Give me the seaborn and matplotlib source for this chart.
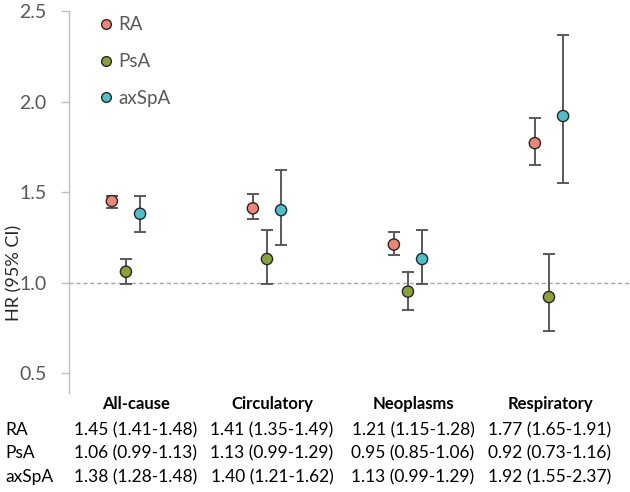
import numpy as np
import pandas as pd
import matplotlib
matplotlib.use("Agg")
import matplotlib.pyplot as plt
from matplotlib.lines import Line2D
import seaborn as sns

sns.set_style("white")
plt.rcParams['font.family'] = ['Lato', 'DejaVu Sans']

# 数据
causes = ["All-cause", "Circulatory", "Neoplasms", "Respiratory"]
groups = ["RA", "PsA", "axSpA"]
ra_hr = [1.45, 1.41, 1.21, 1.77]
ra_lo = [1.41, 1.35, 1.15, 1.65]
ra_hi = [1.48, 1.49, 1.28, 1.91]
psa_hr = [1.06, 1.13, 0.95, 0.92]
psa_lo = [0.99, 0.99, 0.85, 0.73]
psa_hi = [1.13, 1.29, 1.06, 1.16]
axspa_hr = [1.38, 1.40, 1.13, 1.92]
axspa_lo = [1.28, 1.21, 0.99, 1.55]
axspa_hi = [1.48, 1.62, 1.29, 2.37]

colors = {"RA": "#EE8578", "PsA": "#8BA23A", "axSpA": "#4DBFC9"}
offsets = {"RA": -0.1, "PsA": 0.0, "axSpA": 0.1}

rows = []
for g, hr, lo, hi in zip(groups, [ra_hr, psa_hr, axspa_hr], [ra_lo, psa_lo, axspa_lo], [ra_hi, psa_hi, axspa_hi]):
    for i, c in enumerate(causes):
        rows.append({"group": g, "cause": c, "x": i + offsets[g], "hr": hr[i], "lo": lo[i], "hi": hi[i]})
df = pd.DataFrame(rows)

fig = plt.figure(figsize=(6.3, 4.92), dpi=100)
ax = fig.add_axes([69 / 630, 99 / 492, 561 / 630, 382 / 492])

ax.axhline(1.0, color="#A6A6A6", lw=1, ls=(0, (3, 2)), zorder=1)

# 误差线
for g in groups:
    d = df[df["group"] == g]
    ax.errorbar(d["x"], d["hr"], yerr=[d["hr"] - d["lo"], d["hi"] - d["hr"]],
                fmt="none", ecolor="#595959", elinewidth=1.4, capsize=4, capthick=1.4, zorder=2)

sns.scatterplot(data=df, x="x", y="hr", hue="group", palette=colors, s=65,
                edgecolor="#262626", linewidth=1, legend=False, zorder=3, ax=ax)

ax.set_xlim(-0.404, -0.404 + 561 / 141)
ax.set_ylim(0.39, 2.5)
ax.set_yticks([0.5, 1.0, 1.5, 2.0, 2.5])
ax.set_yticklabels(["0.5", "1.0", "1.5", "2.0", "2.5"])
ax.set_xticks([])
ax.set_xlabel("")
ax.set_ylabel("")
ax.tick_params(axis="y", labelsize=14, labelcolor="#595959", color="#BFBFBF", length=6, width=1,
               direction="out", left=True, pad=10)
for s in ["top", "right", "bottom"]:
    ax.spines[s].set_visible(False)
ax.spines["left"].set_color("#BFBFBF")
ax.spines["left"].set_linewidth(1)

fig.text(14 / 630, 1 - 273 / 492, "HR (95% CI)", rotation=90, ha="center", va="center",
         fontsize=13, color="#262626")

# 图例
handles = [Line2D([0], [0], marker="o", ls="none", markersize=7, markerfacecolor=colors[g],
                  markeredgecolor="#262626", markeredgewidth=1) for g in groups]
ax.legend(handles, groups, loc="upper left", bbox_to_anchor=(0.02, 1.03), frameon=False,
          fontsize=13.5, labelspacing=1.05, handletextpad=0.15, handlelength=1.0, labelcolor="#595959")

# 表格
col_x = [136, 272, 413, 550]
row_y = [430, 453, 477]
for cx, c in zip(col_x, causes):
    fig.text(cx / 630, 1 - 404 / 492, c, ha="center", va="center", fontsize=12, fontweight="bold", color="#000000")
for ry, g, hr, lo, hi in zip(row_y, groups, [ra_hr, psa_hr, axspa_hr], [ra_lo, psa_lo, axspa_lo], [ra_hi, psa_hi, axspa_hi]):
    fig.text(5 / 630, 1 - ry / 492, g, ha="left", va="center", fontsize=12.5, color="#000000")
    for cx, h, l, u in zip(col_x, hr, lo, hi):
        fig.text(cx / 630, 1 - ry / 492, "{:.2f} ({:.2f}-{:.2f})".format(h, l, u),
                 ha="center", va="center", fontsize=12.5, color="#000000")

fig.savefig("out.png", dpi=100)
